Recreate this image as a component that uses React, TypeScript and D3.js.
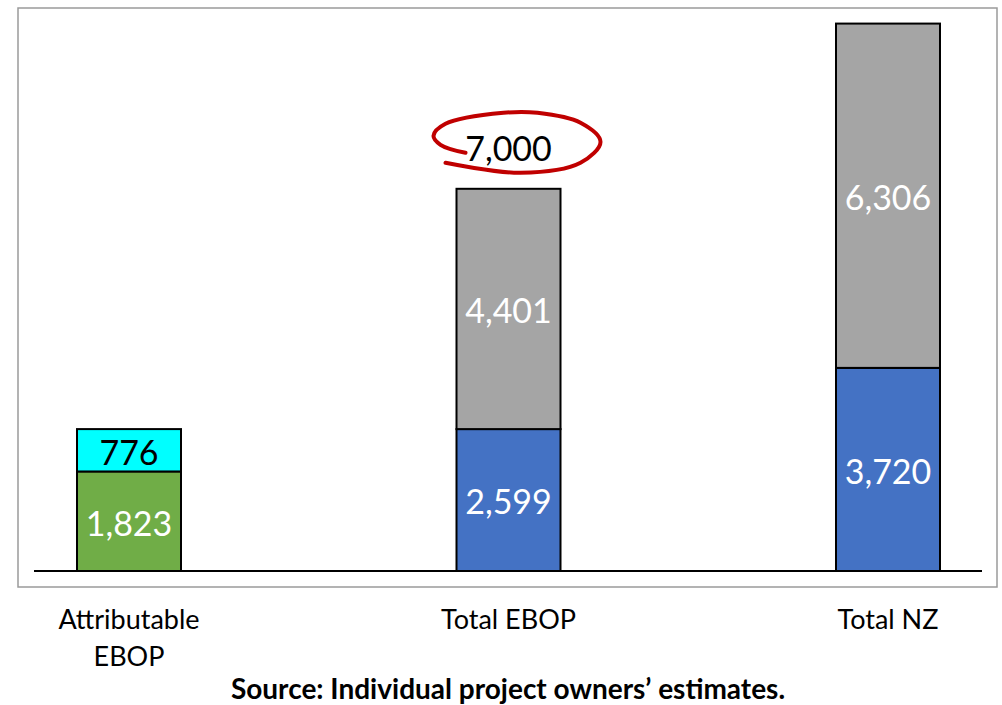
import { useEffect, useRef } from 'react'
import * as d3 from 'd3'

const categories = ['Attributable EBOP', 'Total EBOP', 'Total NZ']
const categoryLines = [['Attributable', 'EBOP'], ['Total EBOP'], ['Total NZ']]
const lowerValues = [1823, 2599, 3720]
const upperValues = [776, 4401, 6306]
const lowerColors = ['#70AD47', '#4472C4', '#4472C4']
const upperColors = ['#00FFFF', '#A5A5A5', '#A5A5A5']
const upperLabelColors = ['#000000', '#FFFFFF', '#FFFFFF']
const highlightedTotal = { category: 'Total EBOP', label: '7,000' }

const width = 1002
const height = 705

export default function App() {
  const svgRef = useRef<SVGSVGElement>(null)

  useEffect(() => {
    if (!svgRef.current) return
    const svg = d3.select(svgRef.current)
    svg.selectAll('*').remove()

    const font = "Lato, Carlito, sans-serif"
    const baseline = 571
    const barWidth = 104
    const valueSize = 34

    const xScale = d3.scalePoint<string>().domain(categories).range([129, 888])
    const yScale = d3.scaleLinear().domain([0, 10000]).range([baseline, 25])

    // Chart frame
    svg
      .append('rect')
      .attr('x', 18)
      .attr('y', 8)
      .attr('width', 979)
      .attr('height', 579)
      .attr('fill', '#fff')
      .attr('stroke', '#9a9a9a')
      .attr('stroke-width', 1.5)

    const rows = categories.map((c, i) => ({
      category: c,
      lower: lowerValues[i],
      upper: upperValues[i],
      i,
    }))

    const g = svg.append('g')

    // Lower segments
    g.selectAll('.lower')
      .data(rows)
      .enter()
      .append('rect')
      .attr('x', (d) => (xScale(d.category) || 0) - barWidth / 2)
      .attr('y', (d) => yScale(d.lower))
      .attr('width', barWidth)
      .attr('height', (d) => baseline - yScale(d.lower))
      .attr('fill', (d) => lowerColors[d.i])
      .attr('stroke', '#000')
      .attr('stroke-width', 2)

    // Upper segments
    g.selectAll('.upper')
      .data(rows)
      .enter()
      .append('rect')
      .attr('x', (d) => (xScale(d.category) || 0) - barWidth / 2)
      .attr('y', (d) => yScale(d.lower + d.upper))
      .attr('width', barWidth)
      .attr('height', (d) => yScale(d.lower) - yScale(d.lower + d.upper))
      .attr('fill', (d) => upperColors[d.i])
      .attr('stroke', '#000')
      .attr('stroke-width', 2)

    // Segment labels
    g.selectAll('.lower-label')
      .data(rows)
      .enter()
      .append('text')
      .attr('x', (d) => xScale(d.category) || 0)
      .attr('y', (d) => (yScale(d.lower) + baseline) / 2)
      .attr('dy', '0.42em')
      .attr('text-anchor', 'middle')
      .attr('font-family', font)
      .attr('font-size', valueSize)
      .attr('fill', '#fff')
      .text((d) => d3.format(',')(d.lower))

    g.selectAll('.upper-label')
      .data(rows)
      .enter()
      .append('text')
      .attr('x', (d) => xScale(d.category) || 0)
      .attr('y', (d) => (yScale(d.lower) + yScale(d.lower + d.upper)) / 2)
      .attr('dy', '0.42em')
      .attr('text-anchor', 'middle')
      .attr('font-family', font)
      .attr('font-size', valueSize)
      .attr('fill', (d) => upperLabelColors[d.i])
      .text((d) => d3.format(',')(d.upper))

    // Baseline
    svg
      .append('line')
      .attr('x1', 34)
      .attr('x2', 982)
      .attr('y1', baseline)
      .attr('y2', baseline)
      .attr('stroke', '#000')
      .attr('stroke-width', 2)

    // Category labels
    categories.forEach((c, i) => {
      const t = svg
        .append('text')
        .attr('x', xScale(c) || 0)
        .attr('y', 629)
        .attr('text-anchor', 'middle')
        .attr('font-family', font)
        .attr('font-size', 27)
        .attr('fill', '#000')
      categoryLines[i].forEach((line, j) => {
        t.append('tspan')
          .attr('x', xScale(c) || 0)
          .attr('dy', j === 0 ? 0 : 37)
          .text(line)
      })
    })

    // Highlighted total with hand-drawn ellipse
    const hi = rows.find((r) => r.category === highlightedTotal.category)!
    const hx = xScale(hi.category) || 0
    const hy = yScale(hi.lower + hi.upper) - 42
    svg
      .append('text')
      .attr('x', hx)
      .attr('y', hy)
      .attr('dy', '0.42em')
      .attr('text-anchor', 'middle')
      .attr('font-family', font)
      .attr('font-size', valueSize)
      .attr('fill', '#000')
      .text(highlightedTotal.label)

    const ellipse = [
      [-43, 6],
      [-68, -2],
      [-75, -11],
      [-63, -23],
      [-5, -34],
      [29, -34],
      [72, -24],
      [92, -5],
      [72, 16],
      [12, 26],
      [-63, 16],
    ].map(([dx, dy]) => [hx + dx, hy + dy] as [number, number])

    svg
      .append('path')
      .attr('d', d3.line().curve(d3.curveCatmullRom.alpha(0.5))(ellipse))
      .attr('fill', 'none')
      .attr('stroke', '#C00000')
      .attr('stroke-width', 4)
      .attr('stroke-linecap', 'round')

    // Source note
    svg
      .append('text')
      .attr('x', 508)
      .attr('y', 699)
      .attr('text-anchor', 'middle')
      .attr('font-family', font)
      .attr('font-size', 28)
      .attr('font-weight', 'bold')
      .attr('fill', '#000')
      .text('Source: Individual project owners\u2019 estimates.')
  }, [])

  return (
    <div style={{ position: 'absolute', left: 0, top: 0 }}>
      <svg ref={svgRef} width={width} height={height} style={{ display: 'block' }} />
    </div>
  )
}
